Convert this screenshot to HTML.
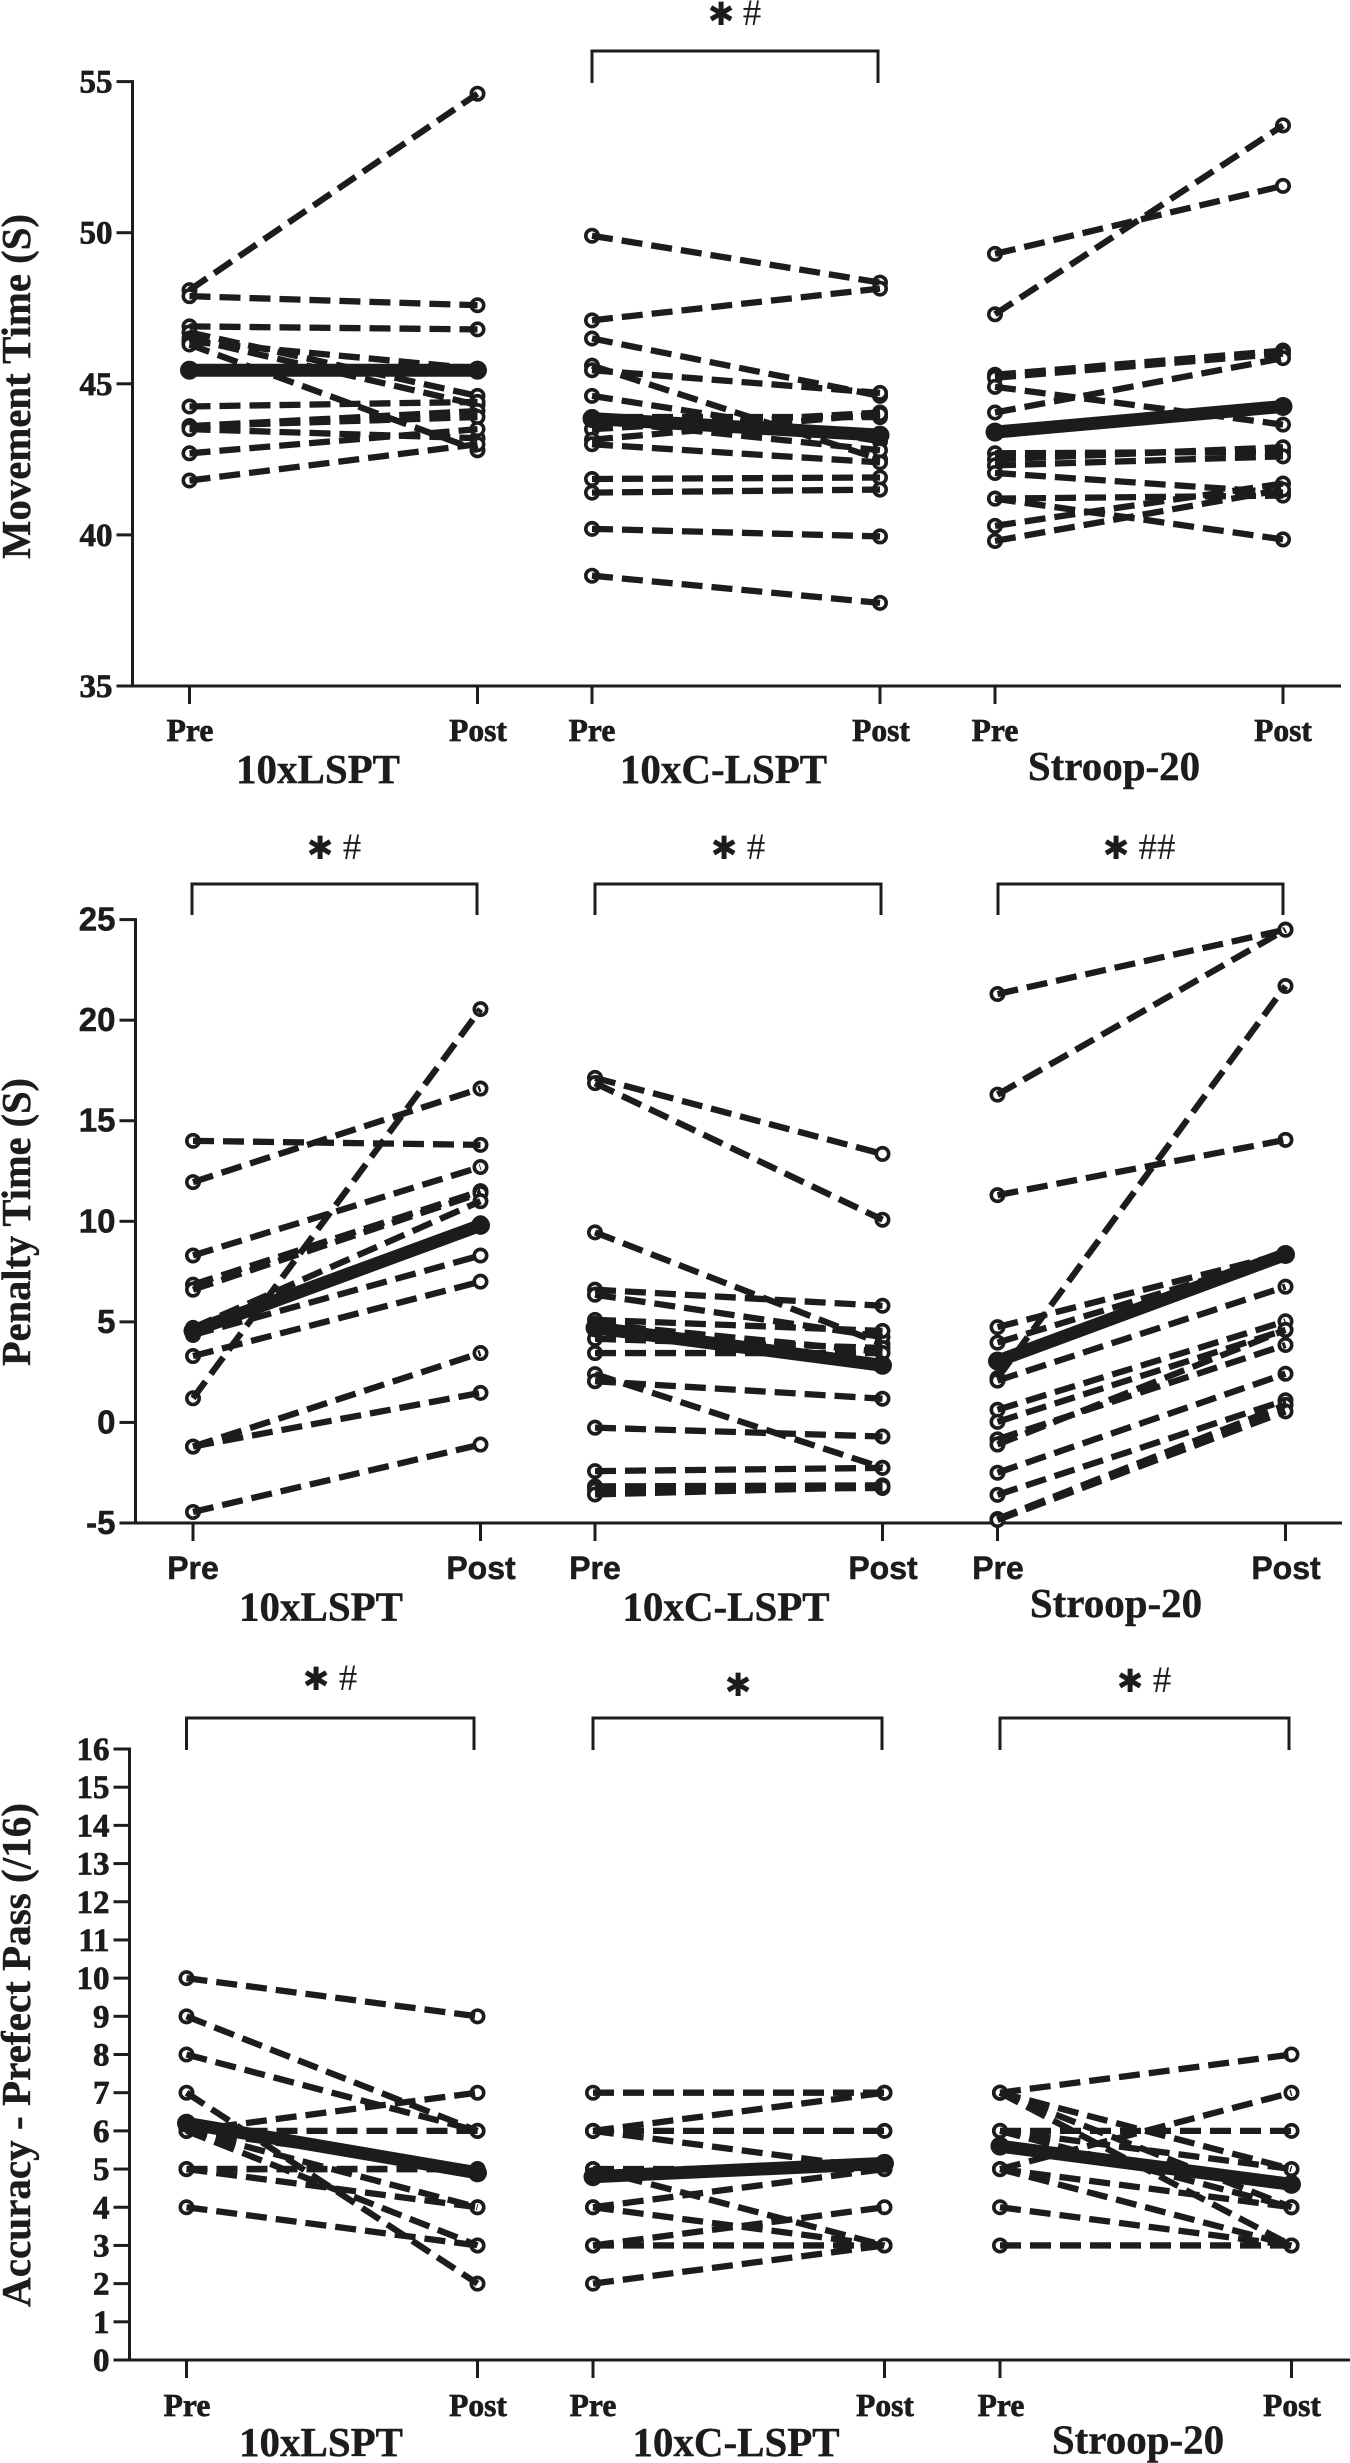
<!DOCTYPE html>
<html lang="en">
<head>
<meta charset="utf-8">
<title>Pre vs Post performance</title>
<style>
html,body{margin:0;padding:0;background:#fff;}
svg{display:block;}
.serif{font-family:"Liberation Serif",serif;font-weight:700;fill:#1c1c1a;stroke:#1c1c1a;stroke-width:0.7;}
.sans{font-family:"Liberation Sans",sans-serif;font-weight:700;fill:#1c1c1a;stroke:#1c1c1a;stroke-width:0.5;}
.pp{font-size:31.5px;text-anchor:middle;}
.sans.pp{font-size:32px;}
.grp{font-size:41px;text-anchor:middle;stroke-width:0.4;}
.title{font-size:41px;text-anchor:middle;stroke-width:0.4;}
.star{font-family:"DejaVu Sans",sans-serif;font-size:32px;text-anchor:middle;fill:#1c1c1a;font-weight:700;}
.hash{font-family:"Liberation Serif",serif;font-size:37px;text-anchor:middle;fill:#1c1c1a;}
.bracket{fill:none;stroke:#1c1c1a;stroke-width:3;}
</style>
</head>
<body>
<svg id="chart" xmlns="http://www.w3.org/2000/svg" width="1350" height="2463" viewBox="0 0 1350 2463">
  <rect x="0" y="0" width="1350" height="2463" fill="#ffffff"/>

  <g id="p1">
    <text class="serif title" transform="translate(30,386.5) rotate(-90)" textLength="345" lengthAdjust="spacingAndGlyphs">Movement Time (S)</text>
    <path class="bracket" d="M592 83V51H878V83"/>
    <text class="star" x="721" y="25">✱</text>
    <text class="hash" x="752" y="25">#</text>
    <text class="serif pp" x="190" y="741">Pre</text>
    <text class="serif pp" x="478" y="741">Post</text>
    <text class="serif pp" x="592" y="741">Pre</text>
    <text class="serif pp" x="881" y="741">Post</text>
    <text class="serif pp" x="995" y="741">Pre</text>
    <text class="serif pp" x="1283" y="741">Post</text>
    <text class="serif grp" x="318" y="783">10xLSPT</text>
    <text class="serif grp" x="723.5" y="783">10xC-LSPT</text>
    <text class="serif grp" x="1114" y="780">Stroop-20</text>
  </g>

  <g id="p2">
    <text class="serif title" transform="translate(30,1222) rotate(-90)" textLength="288" lengthAdjust="spacingAndGlyphs">Penalty Time (S)</text>
    <path class="bracket" d="M192 915V884H477V915"/>
    <path class="bracket" d="M595 915V884H881V915"/>
    <path class="bracket" d="M998 915V884H1283V915"/>
    <text class="star" x="320" y="859">✱</text>
    <text class="hash" x="352" y="859">#</text>
    <text class="star" x="724" y="859">✱</text>
    <text class="hash" x="756" y="859">#</text>
    <text class="star" x="1116" y="859">✱</text>
    <text class="hash" x="1157" y="859">##</text>
    <text class="sans pp" x="193" y="1579">Pre</text>
    <text class="sans pp" x="481" y="1579">Post</text>
    <text class="sans pp" x="595" y="1579">Pre</text>
    <text class="sans pp" x="883" y="1579">Post</text>
    <text class="sans pp" x="998" y="1579">Pre</text>
    <text class="sans pp" x="1286" y="1579">Post</text>
    <text class="serif grp" x="321" y="1620.5">10xLSPT</text>
    <text class="serif grp" x="726" y="1620.5">10xC-LSPT</text>
    <text class="serif grp" x="1116" y="1617">Stroop-20</text>
  </g>

  <g id="p3">
    <text class="serif title" transform="translate(30,2055) rotate(-90)" textLength="504" lengthAdjust="spacingAndGlyphs">Accuracy - Prefect Pass (/16)</text>
    <path class="bracket" d="M186.500 1750V1718H474V1750"/>
    <path class="bracket" d="M593 1750V1718H882V1750"/>
    <path class="bracket" d="M1000 1750V1718H1289V1750"/>
    <text class="star" x="316" y="1690">✱</text>
    <text class="hash" x="348" y="1690">#</text>
    <text class="star" x="738" y="1696">✱</text>
    <text class="star" x="1130" y="1692">✱</text>
    <text class="hash" x="1162" y="1692">#</text>
    <text class="serif pp" x="187" y="2416">Pre</text>
    <text class="serif pp" x="478" y="2416">Post</text>
    <text class="serif pp" x="593" y="2416">Pre</text>
    <text class="serif pp" x="885" y="2416">Post</text>
    <text class="serif pp" x="1001" y="2416">Pre</text>
    <text class="serif pp" x="1292" y="2416">Post</text>
    <text class="serif grp" x="321" y="2456">10xLSPT</text>
    <text class="serif grp" x="736" y="2456">10xC-LSPT</text>
    <text class="serif grp" x="1138" y="2453.5">Stroop-20</text>
  </g>
</svg>

<script>
// ---- tick labels ----
const movementTicks = [35, 40, 45, 50, 55];
const penaltyTicks = [-5, 0, 5, 10, 15, 20, 25];
const accuracyTicks = [0, 1, 2, 3, 4, 5, 6, 7, 8, 9, 10, 11, 12, 13, 14, 15, 16];

// ---- Movement time (s) ----
const mtLsptPre  = [48.1, 47.9, 46.9, 46.7, 46.5, 46.4, 46.3, 44.25, 43.6, 43.6, 43.5, 42.7, 41.8];
const mtLsptPost = [54.6, 47.6, 46.8, 44.6, 44.3, 45.5, 42.8, 44.4, 44.1, 43.9, 43.2, 43.5, 43.0];
const mtLsptMean = [45.45, 45.45];

const mtCPre  = [49.9, 47.1, 46.5, 45.6, 45.45, 44.6, 43.9, 43.8, 43.5, 43.15, 43.0, 41.85, 41.4, 40.2, 38.65];
const mtCPost = [48.35, 48.15, 44.6, 42.5, 44.7, 43.1, 43.9, 42.8, 44.05, 44.0, 42.4, 41.9, 41.5, 39.95, 37.75];
const mtCMean = [43.85, 43.3];

const mtStroopPre  = [49.3, 47.3, 45.3, 45.2, 44.9, 44.05, 42.7, 42.5, 42.3, 42.05, 41.2, 41.2, 40.3, 39.8];
const mtStroopPost = [51.55, 53.55, 46.1, 46.0, 43.65, 45.85, 42.75, 42.9, 42.6, 41.4, 39.85, 41.3, 41.7, 41.5];
const mtStroopMean = [43.4, 44.25];

// ---- Penalty time (s) ----
const ptLsptPre  = [14, 11.95, 8.3, 6.85, 6.6, 4.7, 4.4, 4.35, 3.3, 1.2, -1.2, -1.2, -4.45];
const ptLsptPost = [13.8, 16.6, 12.7, 11.5, 11.4, 11, 9.9, 8.3, 7.0, 20.55, 3.45, 1.47, -1.1];
const ptLsptMean = [4.55, 9.8];

const ptCPre  = [17.13, 16.87, 9.45, 6.6, 6.35, 5.1, 4.9, 4.16, 3.45, 2.4, 2.05, -0.26, -2.42, -3.18, -3.34, -3.58];
const ptCPost = [13.35, 10.08, 3.9, 5.8, 4.25, 4.55, 3.5, 3.7, 3.45, -2.25, 1.18, -0.7, -2.26, -3.13, -3.26, -3.2];
const ptCMean = [4.7, 2.84];

const ptStroopPre  = [21.3, 16.3, 11.3, 4.74, 3.97, 2.2, 2.08, 0.63, 0.03, -0.84, -1.1, -2.5, -3.6, -4.8, -4.85];
const ptStroopPost = [24.5, 24.5, 14.05, 8.4, 8.3, 21.7, 6.75, 5.03, 4.6, 3.85, 4.6, 2.42, 1.1, 0.87, 0.55];
const ptStroopMean = [3.05, 8.35];

// ---- Accuracy (/16) ----
const acLsptPre  = [10, 9, 8, 7, 6, 6, 6, 6, 6, 5, 5, 5, 4];
const acLsptPost = [9, 6, 6, 2, 7, 6, 5, 4, 3, 5, 4, 5, 3];
const acLsptMean = [6.2, 4.9];

const acCPre  = [7, 6, 6, 6, 5, 5, 4, 4, 3, 3, 2];
const acCPost = [7, 7, 6, 5, 5, 3, 5, 3, 4, 3, 3];
const acCMean = [4.8, 5.15];

const acStroopPre  = [7, 7, 7, 7, 6, 6, 6, 5, 5, 5, 4, 3];
const acStroopPost = [8, 5, 4, 3, 6, 5, 4, 7, 4, 3, 3, 3];
const acStroopMean = [5.6, 4.6];

// ---- axis helpers ----
const NS = 'http://www.w3.org/2000/svg';
const INK = '#1c1c1a';

function linearScale(domainLow, domainHigh, pixelLow, pixelHigh) {
  return function (v) {
    return pixelLow + (v - domainLow) * (pixelHigh - pixelLow) / (domainHigh - domainLow);
  };
}

function make(tag, parent, attrs) {
  const el = document.createElementNS(NS, tag);
  for (const k in attrs) el.setAttribute(k, attrs[k]);
  parent.appendChild(el);
  return el;
}

function drawAxes(parent, y, ticks, axisX, tickXs, axisRight, fontClass, prefix) {
  const y0 = y(ticks[0]);
  const yTop = y(ticks[ticks.length - 1]);
  const yLine = make('line', parent, {x1: axisX, x2: axisX, y1: yTop - 1.5, y2: y0 + 1.5, stroke: INK, 'stroke-width': 3});
  
  
  const xLine = make('line', parent, {x1: axisX - 16, x2: axisRight, y1: y0, y2: y0, stroke: INK, 'stroke-width': 3});
  
  
  ticks.forEach(function (t) {
    const mark = make('line', parent, {x1: axisX - 16, x2: axisX, y1: y(t), y2: y(t), stroke: INK, 'stroke-width': 3});
    
    
    const label = make('text', parent, {x: axisX - 20, y: y(t) + 11, 'text-anchor': 'end', 'font-size': 33, class: fontClass});
    label.textContent = String(t);
    
    
  });
  tickXs.forEach(function (x) {
    const mark = make('line', parent, {x1: x, x2: x, y1: y0, y2: y0 + 18, stroke: INK, 'stroke-width': 3});
    
    
  });
}

function drawGroup(parent, y, xPre, xPost, pre, post, mean, prefix) {
  const g = make('g', parent, {});
  
  
  pre.forEach(function (v, i) {
    [[xPre, v], [xPost, post[i]]].forEach(function (pt) {
      const c = make('circle', g, {cx: pt[0], cy: y(pt[1]), r: 6.2, fill: '#fff', stroke: INK, 'stroke-width': 3.6});
      
      
    });
  });
  pre.forEach(function (v, i) {
    const l = make('line', g, {x1: xPre, y1: y(v), x2: xPost, y2: y(post[i]), stroke: INK, 'stroke-width': 6.3, 'stroke-dasharray': '21 9'});
    
    
  });
  const ml = make('line', g, {x1: xPre, y1: y(mean[0]), x2: xPost, y2: y(mean[1]), stroke: INK, 'stroke-width': 13});
  
  
  [[xPre, mean[0]], [xPost, mean[1]]].forEach(function (pt) {
    const c = make('circle', g, {cx: pt[0], cy: y(pt[1]), r: 9.5, fill: INK});
    
    
  });
}

// ---- panel 1: movement time ----
const p1 = document.getElementById('p1');
const yMovement = linearScale(35, 55, 686, 81.6);
drawAxes(p1, yMovement, movementTicks, 132.5, [189.5, 477.5, 592, 880, 995, 1283], 1341, 'serif', 'movement');
drawGroup(p1, yMovement, 189.5, 477.5, mtLsptPre, mtLsptPost, mtLsptMean, 'movement-lspt');
drawGroup(p1, yMovement, 592, 880, mtCPre, mtCPost, mtCMean, 'movement-c-lspt');
drawGroup(p1, yMovement, 995, 1283, mtStroopPre, mtStroopPost, mtStroopMean, 'movement-stroop');

// ---- panel 2: penalty time ----
const p2 = document.getElementById('p2');
const yPenalty = linearScale(-5, 25, 1523, 919.6);
drawAxes(p2, yPenalty, penaltyTicks, 135.5, [193, 480.5, 595, 882.5, 997.5, 1285.5], 1342, 'sans', 'penalty');
drawGroup(p2, yPenalty, 193, 480.5, ptLsptPre, ptLsptPost, ptLsptMean, 'penalty-lspt');
drawGroup(p2, yPenalty, 595, 882.5, ptCPre, ptCPost, ptCMean, 'penalty-c-lspt');
drawGroup(p2, yPenalty, 997.5, 1285.5, ptStroopPre, ptStroopPost, ptStroopMean, 'penalty-stroop');

// ---- panel 3: accuracy ----
const p3 = document.getElementById('p3');
const yAccuracy = linearScale(0, 16, 2360, 1749);
drawAxes(p3, yAccuracy, accuracyTicks, 129.5, [186.5, 477.5, 593, 884.5, 1000, 1291.5], 1350, 'serif', 'accuracy');
drawGroup(p3, yAccuracy, 186.5, 477.5, acLsptPre, acLsptPost, acLsptMean, 'accuracy-lspt');
drawGroup(p3, yAccuracy, 593, 884.5, acCPre, acCPost, acCMean, 'accuracy-c-lspt');
drawGroup(p3, yAccuracy, 1000, 1291.5, acStroopPre, acStroopPost, acStroopMean, 'accuracy-stroop');
</script>
</body>
</html>
